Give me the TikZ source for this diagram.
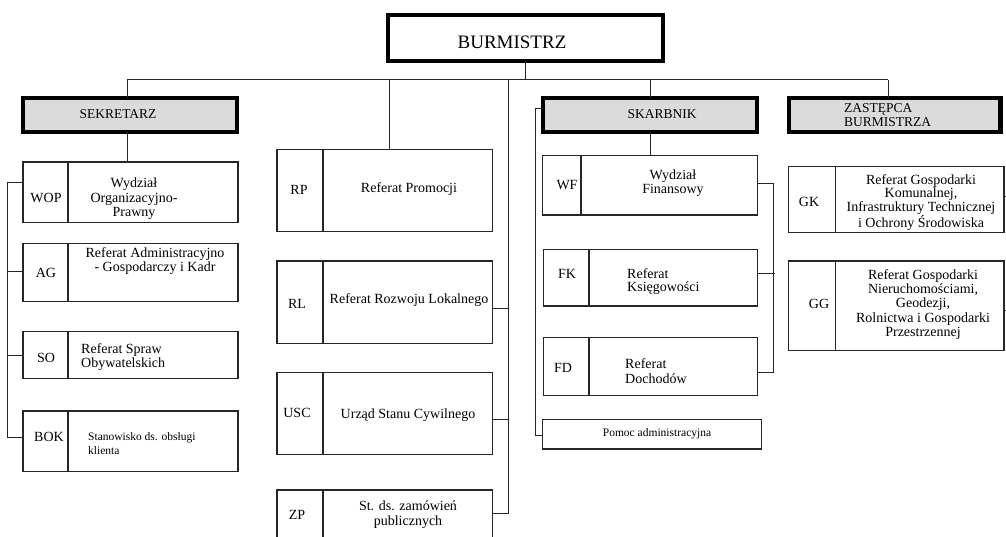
\documentclass[tikz,border=0pt]{standalone}
\usepackage{fontspec}
\setmainfont{Liberation Serif}
\begin{document}
\begin{tikzpicture}[x=1pt,y=-1pt,
  box/.style={draw=black!85, line width=1.2pt, inner sep=0pt, outer sep=0pt, anchor=north west},
  head/.style={draw=black, line width=4.5pt, fill=black!14, inner sep=0pt, outer sep=0pt, anchor=north west},
  conn/.style={draw=black!85, line width=1pt},
  div/.style={draw=black!85, line width=1.2pt},
  tx/.style={inner sep=0pt, font=\fontsize{14}{14.5}\selectfont, align=center},
  txl/.style={inner sep=0pt, font=\fontsize{14}{14.5}\selectfont, align=left},
  sm/.style={inner sep=0pt, font=\fontsize{11.5}{14}\selectfont, align=left},
]
\useasboundingbox (0,0) rectangle (1006,537);
\clip (0,0) rectangle (1006,537);
\fill[white] (0,0) rectangle (1006,537);

% ---- head boxes
\node[head, fill=white, minimum width=275pt, minimum height=46pt] (burm) at (388,15) {};
\node[inner sep=0pt, font=\fontsize{19}{20}\selectfont] (burmT) at (512,42) {BURMISTRZ};
\node[head, minimum width=214pt, minimum height=34pt] (sek) at (23,98) {};
\node[inner sep=0pt, font=\fontsize{13.5}{14}\selectfont] (sekT) at (118,114) {SEKRETARZ};
\node[head, minimum width=214pt, minimum height=34pt] (skarb) at (543,98) {};
\node[inner sep=0pt, font=\fontsize{13.5}{14}\selectfont] (skarbT) at (662,114) {SKARBNIK};
\node[head, minimum width=211.5pt, minimum height=34pt] (zast) at (789,98) {};
\node[inner sep=0pt, font=\fontsize{13.5}{14}\selectfont, align=left, anchor=west] (zastT) at (844,115) {ZASTĘPCA\\BURMISTRZA};

% ---- left column
\node[box, minimum width=215pt, minimum height=60.5pt] (wop) at (23,162) {};
\draw[div] ([xshift=45pt]wop.north west) -- ([xshift=45pt]wop.south west);
\node[tx] (wopL) at (46,198) {WOP};
\node[tx] (wopT) at (134,199) {Wydział\\Organizacyjno-\\Prawny};

\node[box, minimum width=215pt, minimum height=58.4pt] (ag) at (23,243.3) {};
\draw[div] ([xshift=45pt]ag.north west) -- ([xshift=45pt]ag.south west);
\node[tx] (agL) at (46,273) {AG};
\node[tx] (agT) at (155,261) {Referat Administracyjno\\- Gospodarczy i Kadr};

\node[box, minimum width=215pt, minimum height=46.6pt] (so) at (23,331.7) {};
\draw[div] ([xshift=45pt]so.north west) -- ([xshift=45pt]so.south west);
\node[tx] (soL) at (46,358) {SO};
\node[txl, anchor=west, font=\fontsize{14}{12.5}\selectfont] (soT) at (81,357) {Referat Spraw\\Obywatelskich};

\node[box, minimum width=215pt, minimum height=60.7pt] (bok) at (23,411) {};
\draw[div] ([xshift=45pt]bok.north west) -- ([xshift=45pt]bok.south west);
\node[tx] (bokL) at (49,437) {BOK};
\node[sm, anchor=west] (bokT) at (88,444) {Stanowisko ds. obsługi\\klienta};

% ---- middle column
\node[box, minimum width=215.7pt, minimum height=82.4pt] (rp) at (277,149.3) {};
\draw[div] ([xshift=46pt]rp.north west) -- ([xshift=46pt]rp.south west);
\node[tx] (rpL) at (299,190) {RP};
\node[tx] (rpT) at (409,189) {Referat Promocji};

\node[box, minimum width=215.7pt, minimum height=82.3pt] (rl) at (277,261) {};
\draw[div] ([xshift=46pt]rl.north west) -- ([xshift=46pt]rl.south west);
\node[tx] (rlL) at (297,304) {RL};
\node[tx] (rlT) at (409,300) {Referat Rozwoju Lokalnego};

\node[box, minimum width=215.7pt, minimum height=81.6pt] (usc) at (277,372.7) {};
\draw[div] ([xshift=46pt]usc.north west) -- ([xshift=46pt]usc.south west);
\node[tx] (uscL) at (297,413) {USC};
\node[tx] (uscT) at (408,415) {Urząd Stanu Cywilnego};

\node[box, minimum width=215.7pt, minimum height=80pt] (zp) at (277,490) {};
\draw[div] ([xshift=46pt]zp.north west) -- ([xshift=46pt]zp.south west);
\node[tx] (zpL) at (297,515) {ZP};
\node[tx] (zpT) at (408,514.5) {St. ds. zamówień\\publicznych};

% ---- skarbnik column
\node[box, minimum width=215.4pt, minimum height=59.3pt] (wf) at (542.3,155.7) {};
\draw[div] ([xshift=38.7pt]wf.north west) -- ([xshift=38.7pt]wf.south west);
\node[tx] (wfL) at (567,185) {WF};
\node[tx] (wfT) at (673,183) {Wydział\\Finansowy};

\node[box, minimum width=214.4pt, minimum height=56.7pt] (fk) at (543.3,249.3) {};
\draw[div] ([xshift=45.7pt]fk.north west) -- ([xshift=45.7pt]fk.south west);
\node[tx] (fkL) at (567,274) {FK};
\node[txl, anchor=west, font=\fontsize{14}{13}\selectfont] (fkT) at (627,281.5) {Referat\\Księgowości};

\node[box, minimum width=214.4pt, minimum height=58pt] (fd) at (543.3,337.7) {};
\draw[div] ([xshift=45.7pt]fd.north west) -- ([xshift=45.7pt]fd.south west);
\node[tx] (fdL) at (563,368) {FD};
\node[txl, anchor=west, font=\fontsize{14}{15}\selectfont] (fdT) at (625,371.5) {Referat\\Dochodów};

\node[box, minimum width=219.4pt, minimum height=29.7pt] (pomoc) at (542.3,419.3) {};
\node[sm] (pomocT) at (657,434) {Pomoc administracyjna};

% ---- zastepca column
\node[box, minimum width=215.7pt, minimum height=65.6pt] (gk) at (788.3,166.7) {};
\draw[div] ([xshift=47.4pt]gk.north west) -- ([xshift=47.4pt]gk.south west);
\node[tx] (gkL) at (809,202) {GK};
\node[tx, font=\fontsize{14}{13.4}\selectfont] (gkT) at (921,202.5) {Referat Gospodarki\\Komunalnej,\\Infrastruktury Technicznej\\i Ochrony Środowiska};

\node[box, minimum width=215.7pt, minimum height=89.7pt] (gg) at (788.3,261) {};
\draw[div] ([xshift=47.4pt]gg.north west) -- ([xshift=47.4pt]gg.south west);
\node[tx] (ggL) at (819,304) {GG};
\node[tx, font=\fontsize{14}{14.2}\selectfont] (ggT) at (923,304.5) {Referat Gospodarki\\Nieruchomościami,\\Geodezji,\\Rolnictwa i Gospodarki\\Przestrzennej};

% ---- connectors
\coordinate (busL) at (127,80);
\coordinate (busR) at (888,80);
\coordinate (busRP) at (389,80);
\coordinate (busM) at (508,80);
\coordinate (busS) at (650,80);
\coordinate (leftX) at (7,0);
\coordinate (skX) at (535,0);
\coordinate (fX) at (773,0);
\coordinate (outR) at (1012,0);

\draw[conn] (burm.south) -- (burm.south |- busL);
\draw[conn] (busL) -- (busR);
\draw[conn] (busL) -- (busL |- sek.north);
\draw[conn] (sek.south -| busL) -- (busL |- wop.north);
\draw[conn] (busRP) -- (busRP |- rp.north);
\draw[conn] (busS) -- (busS |- skarb.north);
\draw[conn] (skarb.south) -- (wf.north -| skarb.south);
\draw[conn] (busR) -- (busR |- zast.north);

% left column
\draw[conn] (wop.west |- 0,183) -- (leftX |- 0,183) -- (leftX |- 0,437) -- (bok.west |- 0,437);
\draw[conn] (ag.west |- 0,272) -- (leftX |- 0,272);
\draw[conn] (so.west |- 0,355) -- (leftX |- 0,355);

% middle
\draw[conn] (busM) -- (busM |- 0,513) -- (zp.east |- 0,513);
\draw[conn] (rl.east |- 0,308) -- (busM |- 0,308);
\draw[conn] (usc.east |- 0,419) -- (busM |- 0,419);

% skarbnik side
\draw[conn] (skarb.west |- 0,109) -- (skX |- 0,109) -- (skX |- 0,435) -- (pomoc.west |- 0,435);
\draw[conn] (wf.east |- 0,184) -- (fX |- 0,184) -- (fX |- 0,372) -- (fd.east |- 0,372);
\draw[conn] (fk.east |- 0,274) -- ([xshift=2pt]fX |- 0,274);

% right stubs
\draw[conn] (gk.east |- 0,197) -- (outR |- 0,197);
\draw[conn] (gg.east |- 0,310) -- (outR |- 0,310);
\end{tikzpicture}
\end{document}
